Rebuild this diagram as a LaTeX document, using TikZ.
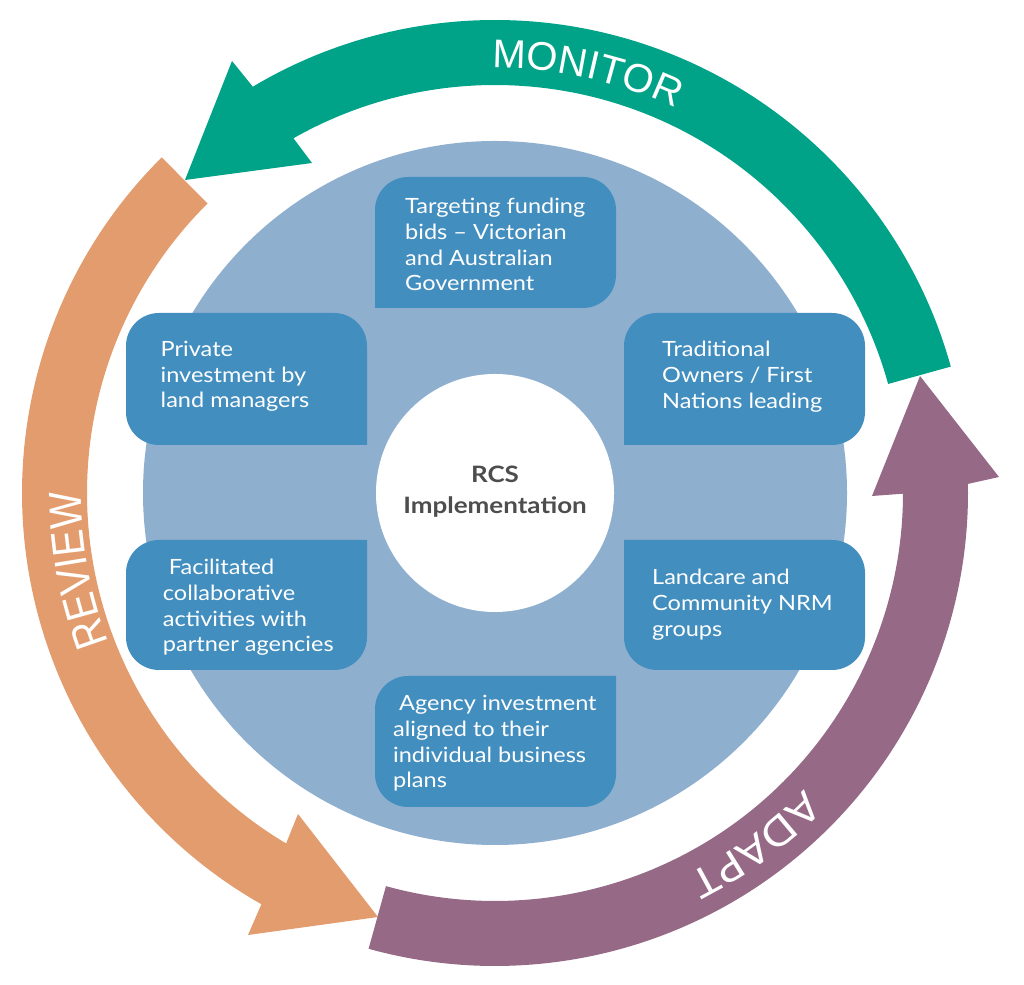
\documentclass[tikz,border=0pt]{standalone}
\usepackage{fontspec}
\setmainfont{Lato}
\newfontfamily\boxfont{Lato}[FakeStretch=1.12]
\newfontfamily\centerfont{Lato}[FakeStretch=1.15]
\newfontfamily\arcfont{Liberation Sans}
\newfontfamily\revfont{Liberation Sans}[FakeStretch=0.85]
\newfontfamily\adaptfont{Lato}[FakeStretch=1.1]
\usetikzlibrary{decorations.text}
\definecolor{tealarrow}{HTML}{00A387}
\definecolor{orangearrow}{HTML}{E39C6D}
\definecolor{purplearrow}{HTML}{966A87}
\definecolor{lightblue}{HTML}{8FAFCF}
\definecolor{boxblue}{HTML}{428EBF}
\definecolor{centergray}{HTML}{4D4D4D}
\newcommand{\boxlines}[1]{\parbox[t]{300pt}{\boxfont\fontsize{21}{25.6}\selectfont\raggedright #1}}
\begin{document}
\begin{tikzpicture}[x=1pt,y=1pt,
  boxfill/.style={fill=boxblue, rounded corners=33pt},
  boxtext/.style={anchor=base west, inner sep=0pt, text=white},
  arctext/.style={decorate, decoration={text along path, text align=center, text color=white}}]
\useasboundingbox (0,0) rectangle (1024,984);
\fill[white] (0,0) rectangle (1024,984);
\coordinate (C) at (495,491);
% big circle
\fill[lightblue] (C) circle[radius=352pt];
% boxes (each path starts at its sharp corner)
\fill[boxfill] (375,676) -- (375,807) -- (616,807) -- (616,676) -- (375,676);
\fill[boxfill] (367,539) -- (126,539) -- (126,671) -- (367,671) -- (367,539);
\fill[boxfill] (624,539) -- (624,671) -- (865,671) -- (865,539) -- (624,539);
\fill[boxfill] (624,444) -- (865,444) -- (865,314) -- (624,314) -- (624,444);
\fill[boxfill] (367,444) -- (367,314) -- (126,314) -- (126,444) -- (367,444);
\fill[boxfill] (616,308) -- (616,177) -- (375,177) -- (375,308) -- (616,308);
% centre circle
\fill[white] (C) circle[radius=119pt];
\begin{scope}[shift={(C)}]
% MONITOR arrow
\fill[tealarrow] (15.5:473pt) arc[start angle=15.5, end angle=120.8, radius=473pt]
  -- (-263,432) -- (-310,313) -- (-183,330)
  -- (119.6:408pt) arc[start angle=119.6, end angle=15.5, radius=408pt] -- cycle;
% REVIEW arrow
\fill[orangearrow] (134.8:473pt) arc[start angle=134.8, end angle=240.4, radius=473pt]
  -- (-247,-442) -- (-117,-424) -- (-197,-321)
  -- (239.2:408pt) arc[start angle=239.2, end angle=134.8, radius=408pt] -- cycle;
% ADAPT arrow
\fill[purplearrow] (-105.5:473pt) arc[start angle=-105.5, end angle=1.1, radius=473pt]
  -- (504,16) -- (425,117) -- (377,-3)
  -- (-0.1:408pt) arc[start angle=-0.1, end angle=-105.5, radius=408pt] -- cycle;
% arc labels
\path[arctext, decoration={text={|\arcfont\fontsize{40}{40}\selectfont|MONITOR}}]
  (100:425pt) arc[start angle=100, end angle=55.2, radius=425pt];
\path[arctext, decoration={text={|\revfont\fontsize{46}{46}\selectfont|REVIEW}}]
  (212:414pt) arc[start angle=212, end angle=169, radius=414pt];
\path[arctext, decoration={text={|\adaptfont\fontsize{40}{40}\selectfont|ADAPT}}]
  (-30:428pt) arc[start angle=-30, end angle=-77, radius=428pt];
\end{scope}
% texts
\node[boxtext] (t1) at (405,770) {\boxlines{Targeting funding\\bids – Victorian\\and Australian\\Government}};
\node[boxtext] (t2) at (160.5,627.3) {\boxlines{Private\\investment by\\land managers}};
\node[boxtext] (t3) at (662,627) {\boxlines{Traditional\\Owners / First\\Nations leading}};
\node[boxtext] (t4) at (652,399) {\boxlines{Landcare and\\Community NRM\\groups}};
\node[boxtext] (t5) at (162.7,409) {\boxlines{\hspace*{6pt}Facilitated\\collaborative\\activities with\\partner agencies}};
\node[boxtext] (t6) at (393,273) {\boxlines{\hspace*{6pt}Agency investment\\aligned to their\\individual business\\plans}};
\node[anchor=base, inner sep=0pt, text=centergray] (rcs) at (495,501.3)
  {\parbox[t]{300pt}{\centering\centerfont\bfseries\fontsize{22.6}{30.6}\selectfont RCS\\Implementation}};
\end{tikzpicture}
\end{document}
